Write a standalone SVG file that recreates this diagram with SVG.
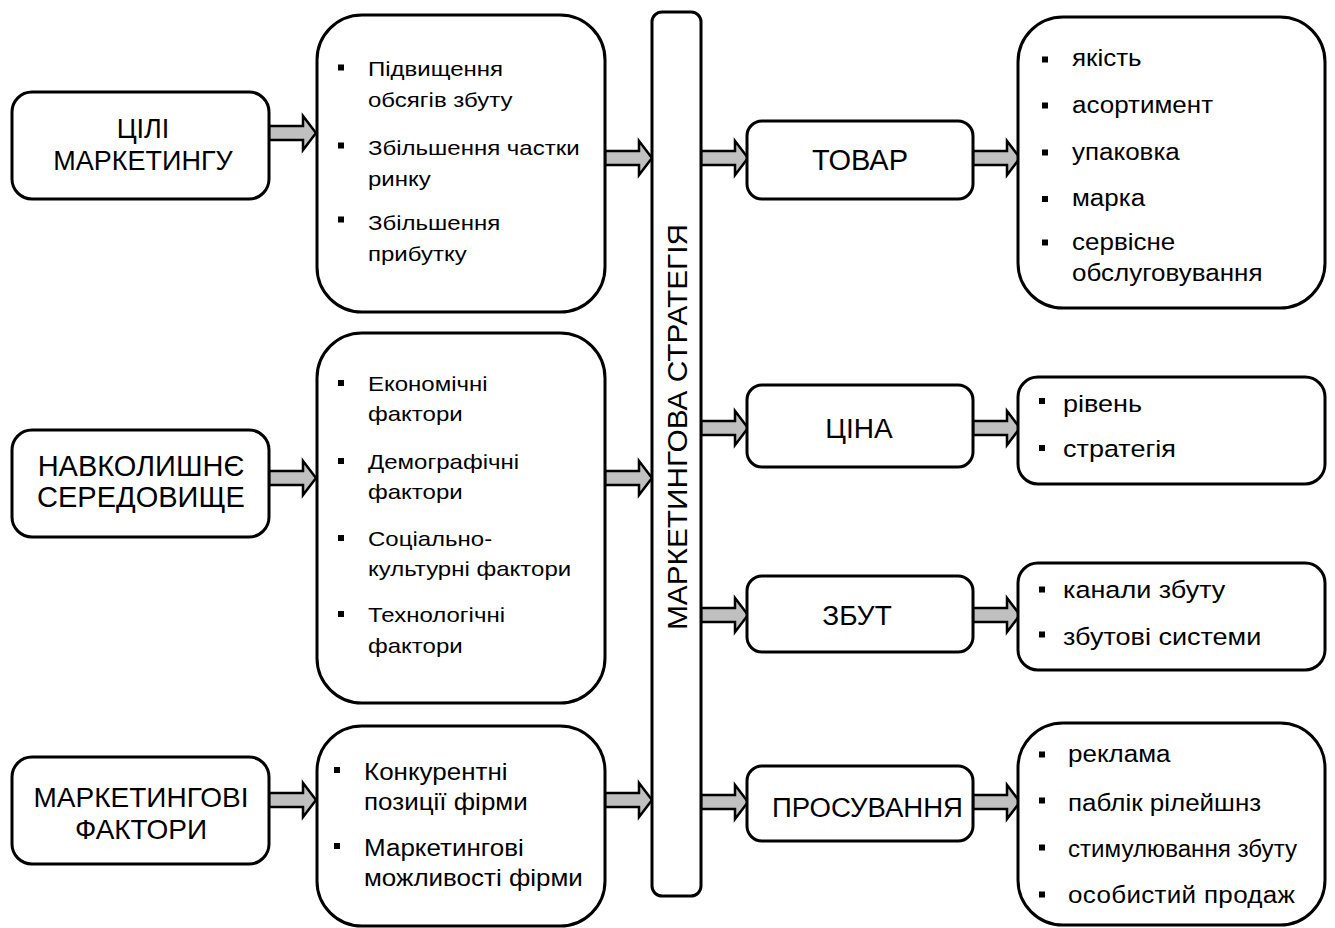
<svg xmlns="http://www.w3.org/2000/svg" width="1335" height="928" viewBox="0 0 1335 928">
  <style>
    .box { fill: #ffffff; stroke: #000000; stroke-width: 3; }
    .arrow { fill: #c0c0c0; stroke: #000000; stroke-width: 2.5; stroke-linejoin: miter; }
    .title { font-family: "Liberation Sans", Arial, sans-serif; fill: #000000; text-anchor: middle; }
    .item { font-family: "Liberation Sans", Arial, sans-serif; fill: #000000; }
    .s21 { font-size: 21px; }
    .s23 { font-size: 23px; }
    .s235 { font-size: 23.5px; }
    .bullet { fill: #000000; }
  </style>
  <defs>
    <!-- block arrow, 47 px long, pointing right; origin at the tail centre -->
    <path id="blockArrow" class="arrow" d="M0,-7 H34 V-17 L47,0 L34,17 V7 H0 Z"/>
    <rect id="sq" class="bullet" x="0" y="-3" width="6" height="6"/>
  </defs>
  <rect width="1335" height="928" fill="#ffffff"/>

  <!-- connectors -->
  <g id="connectors">
    <use href="#blockArrow" x="269" y="133"/>
    <use href="#blockArrow" x="269" y="478"/>
    <use href="#blockArrow" x="269" y="800"/>
    <use href="#blockArrow" x="605" y="158"/>
    <use href="#blockArrow" x="605" y="478"/>
    <use href="#blockArrow" x="605" y="800"/>
    <use href="#blockArrow" x="701" y="158"/>
    <use href="#blockArrow" x="701" y="428"/>
    <use href="#blockArrow" x="701" y="615"/>
    <use href="#blockArrow" x="701" y="802"/>
    <use href="#blockArrow" x="973" y="158"/>
    <use href="#blockArrow" x="973" y="428"/>
    <use href="#blockArrow" x="973" y="615"/>
    <use href="#blockArrow" x="973" y="802"/>
  </g>

  <!-- left column -->
  <g id="goals">
    <rect class="box" x="12" y="92" width="257" height="107" rx="20"/>
    <text class="title" font-size="27" x="143" y="138">ЦІЛІ</text>
    <text class="title" font-size="27" x="143" y="170">МАРКЕТИНГУ</text>
  </g>
  <g id="environment">
    <rect class="box" x="12" y="430" width="257" height="107" rx="20"/>
    <text class="title" font-size="29" x="141" y="476">НАВКОЛИШНЄ</text>
    <text class="title" font-size="29" x="141" y="507">СЕРЕДОВИЩЕ</text>
  </g>
  <g id="marketing-factors">
    <rect class="box" x="12" y="757" width="257" height="107" rx="20"/>
    <text class="title" font-size="28" x="141" y="807">МАРКЕТИНГОВІ</text>
    <text class="title" font-size="28" x="141" y="839">ФАКТОРИ</text>
  </g>

  <!-- second column: lists (text is set a little wide, hence the x-scale) -->
  <g id="goals-list">
    <rect class="box" x="317" y="15" width="288" height="297" rx="45"/>
    <use href="#sq" x="338" y="67.5"/>
    <use href="#sq" x="338" y="145.5"/>
    <use href="#sq" x="338" y="219.5"/>
    <g class="item s21" transform="translate(368 0) scale(1.143 1)">
      <text x="0" y="76">Підвищення</text>
      <text x="0" y="107">обсягів збуту</text>
      <text x="0" y="155">Збільшення частки</text>
      <text x="0" y="186">ринку</text>
      <text x="0" y="230">Збільшення</text>
      <text x="0" y="261">прибутку</text>
    </g>
  </g>
  <g id="environment-list">
    <rect class="box" x="317" y="333" width="288" height="370" rx="45"/>
    <use href="#sq" x="338" y="383"/>
    <use href="#sq" x="338" y="461"/>
    <use href="#sq" x="338" y="538"/>
    <use href="#sq" x="338" y="614"/>
    <g class="item s21" transform="translate(368 0) scale(1.143 1)">
      <text x="0" y="391">Економічні</text>
      <text x="0" y="421">фактори</text>
      <text x="0" y="469">Демографічні</text>
      <text x="0" y="499">фактори</text>
      <text x="0" y="546">Соціально-</text>
      <text x="0" y="576">культурні фактори</text>
      <text x="0" y="622">Технологічні</text>
      <text x="0" y="653">фактори</text>
    </g>
  </g>
  <g id="factors-list">
    <rect class="box" x="317" y="726" width="288" height="200" rx="45"/>
    <use href="#sq" x="334" y="770"/>
    <use href="#sq" x="334" y="846"/>
    <g class="item s23" transform="translate(364 0) scale(1.13 1)">
      <text x="0" y="780">Конкурентні</text>
      <text x="0" y="810">позиції фірми</text>
      <text x="0" y="856">Маркетингові</text>
      <text x="0" y="886">можливості фірми</text>
    </g>
  </g>

  <!-- central strategy bar -->
  <g id="strategy">
    <rect class="box" x="652" y="12" width="49" height="884" rx="10"/>
    <text class="title" font-size="28" textLength="406" lengthAdjust="spacingAndGlyphs" transform="translate(687,427) rotate(-90)" x="0" y="0">МАРКЕТИНГОВА СТРАТЕГІЯ</text>
  </g>

  <!-- marketing mix -->
  <g id="product">
    <rect class="box" x="747" y="121" width="226" height="78" rx="15"/>
    <text class="title" font-size="29" x="860" y="170">ТОВАР</text>
  </g>
  <g id="price">
    <rect class="box" x="747" y="385" width="226" height="82" rx="15"/>
    <text class="title" font-size="28" x="859" y="438">ЦІНА</text>
  </g>
  <g id="distribution">
    <rect class="box" x="747" y="576" width="226" height="76" rx="15"/>
    <text class="title" font-size="28" x="857" y="625">ЗБУТ</text>
  </g>
  <g id="promotion">
    <rect class="box" x="747" y="766" width="226" height="75" rx="15"/>
    <text class="title" font-size="27" textLength="191" lengthAdjust="spacingAndGlyphs" x="867.5" y="817">ПРОСУВАННЯ</text>
  </g>

  <!-- right column: lists -->
  <g id="product-list">
    <rect class="box" x="1018" y="17" width="307" height="291" rx="45"/>
    <use href="#sq" x="1042" y="59.5"/>
    <use href="#sq" x="1042" y="105.5"/>
    <use href="#sq" x="1042" y="152.5"/>
    <use href="#sq" x="1042" y="199"/>
    <use href="#sq" x="1042" y="242.5"/>
    <g class="item s23" transform="translate(1072 0) scale(1.13 1)">
      <text x="0" y="66">якість</text>
      <text x="0" y="113">асортимент</text>
      <text x="0" y="160">упаковка</text>
      <text x="0" y="206">марка</text>
      <text x="0" y="250">сервісне</text>
      <text x="0" y="281">обслуговування</text>
    </g>
  </g>
  <g id="price-list">
    <rect class="box" x="1018" y="377" width="307" height="107" rx="20"/>
    <use href="#sq" x="1039" y="401"/>
    <use href="#sq" x="1039" y="448"/>
    <g class="item s235" transform="translate(1063 0) scale(1.15 1)">
      <text x="0" y="412">рівень</text>
      <text x="0" y="457">стратегія</text>
    </g>
  </g>
  <g id="distribution-list">
    <rect class="box" x="1018" y="563" width="307" height="107" rx="20"/>
    <use href="#sq" x="1039" y="589.5"/>
    <use href="#sq" x="1039" y="634.5"/>
    <g class="item s235" transform="translate(1063 0) scale(1.15 1)">
      <text x="0" y="598">канали збуту</text>
      <text x="0" y="645">збутові системи</text>
    </g>
  </g>
  <g id="promotion-list">
    <rect class="box" x="1018" y="723" width="307" height="202" rx="45"/>
    <use href="#sq" x="1039" y="754.5"/>
    <use href="#sq" x="1039" y="800.5"/>
    <use href="#sq" x="1039" y="847.5"/>
    <use href="#sq" x="1039" y="894.5"/>
    <g class="item s23" transform="translate(1068 0) scale(1.13 1)">
      <text x="0" y="762">реклама</text>
      <text x="0" y="811">паблік рілейшнз</text>
      <text x="0" y="857" textLength="202.7" lengthAdjust="spacingAndGlyphs">стимулювання збуту</text>
      <text x="0" y="903" textLength="200.9" lengthAdjust="spacing">особистий продаж</text>
    </g>
  </g>
</svg>
